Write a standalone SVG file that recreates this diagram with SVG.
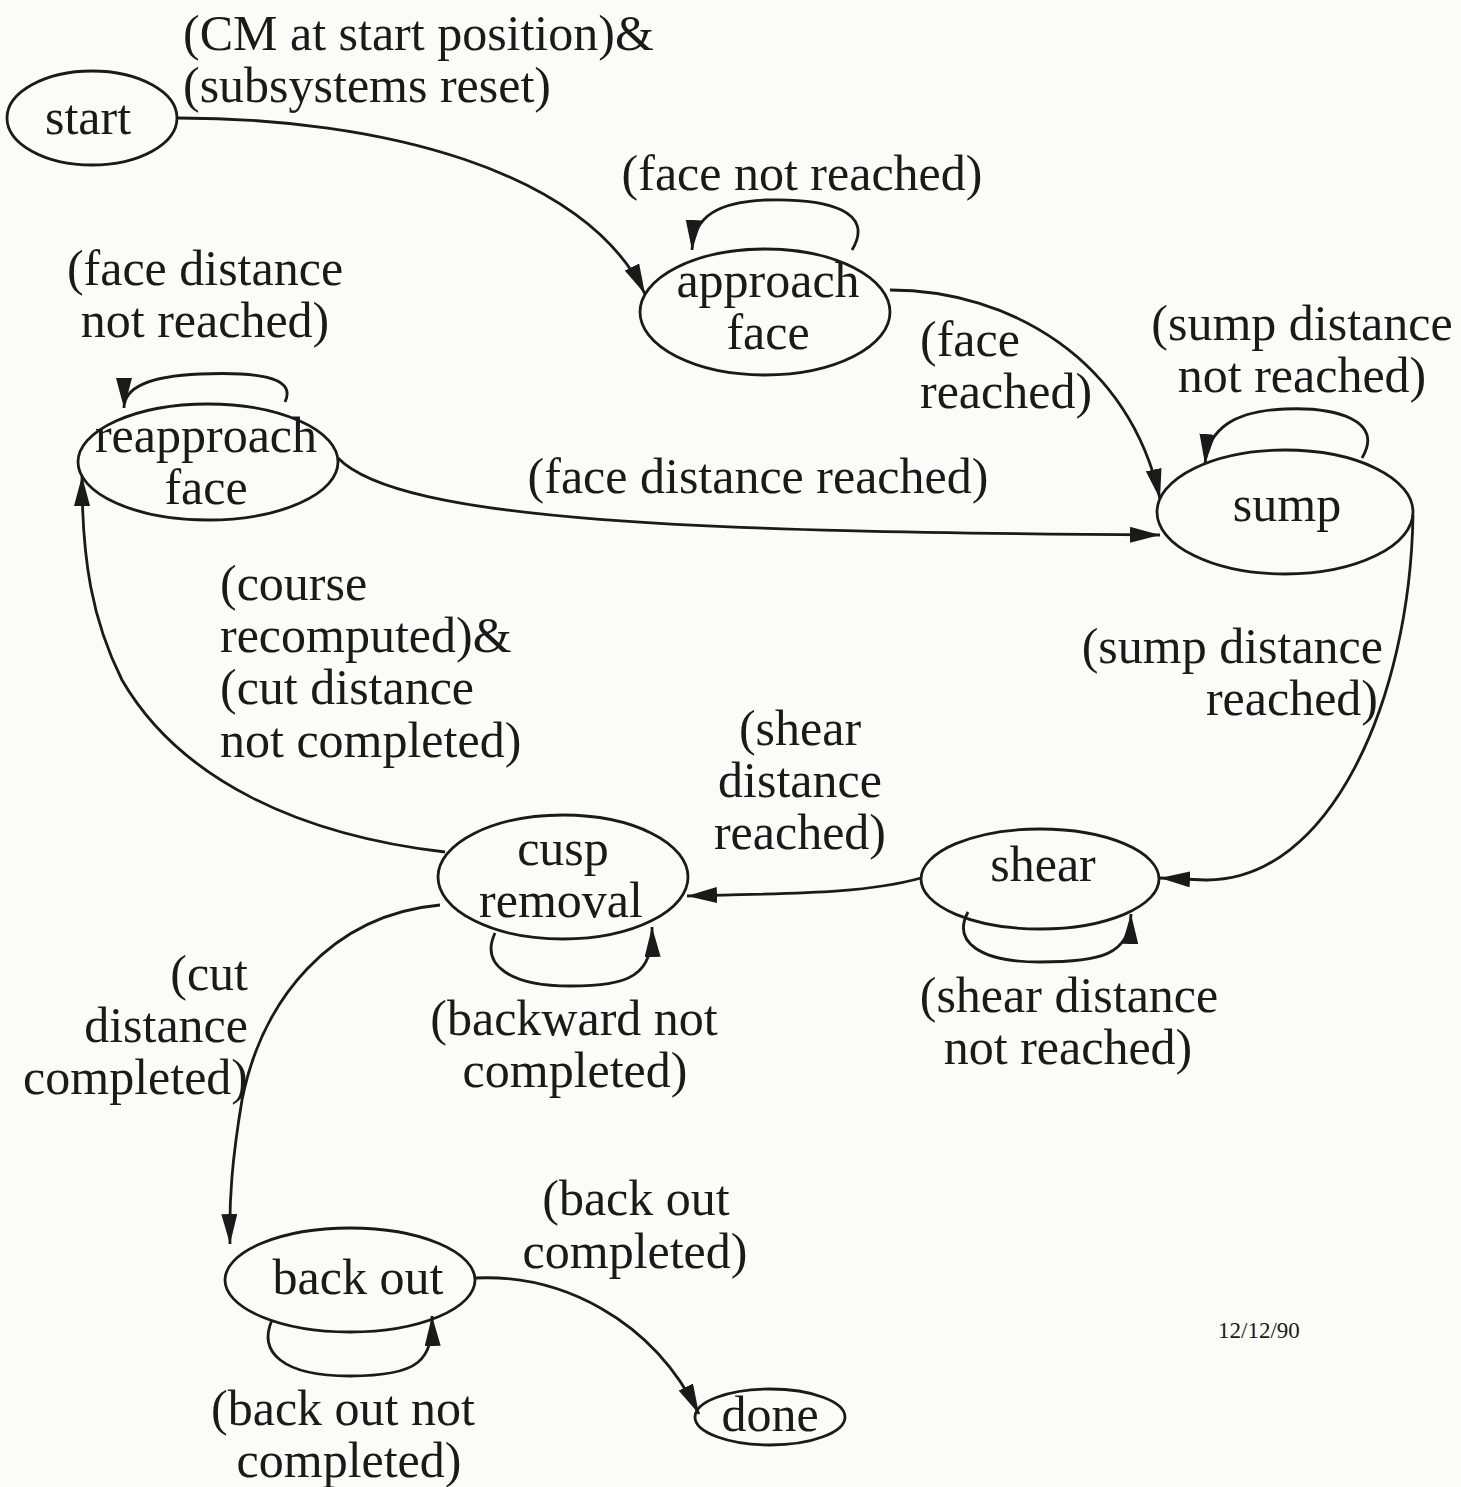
<svg xmlns="http://www.w3.org/2000/svg" width="1461" height="1487" viewBox="0 0 1461 1487">
  <style>
    .bg { fill: #fbfbf7; }
    .state { fill: none; stroke: #1a1a1a; stroke-width: 2.8; }
    .edge { fill: none; stroke: #1a1a1a; stroke-width: 2.8; marker-end: url(#head); }
    text { font-family: "Liberation Serif", "Times New Roman", serif; font-size: 50px; fill: #1a1a1a; }
    .mid { text-anchor: middle; }
    .end { text-anchor: end; }
    .date { font-size: 23px; }
  </style>
  <defs>
    <marker id="head" markerUnits="userSpaceOnUse" markerWidth="32" markerHeight="18" refX="30" refY="8" orient="auto">
      <path d="M0,0 L30,8 L0,16 Z" fill="#1a1a1a"/>
    </marker>
  </defs>

  <rect class="bg" x="0" y="0" width="1461" height="1487"/>

  <!-- transitions -->
  <g id="connectors">
    <path class="edge" d="M178,118 C380,118 585,170 645,294"/>
    <path class="edge" d="M852,250 C875,212 830,198 765,200 C720,202 694,215 692,250"/>
    <path class="edge" d="M890,290 C1010,290 1130,360 1160,499"/>
    <path class="edge" d="M1362,458 C1385,420 1335,407 1285,409 C1235,411 1208,428 1205,464"/>
    <path class="edge" d="M338,458 C400,522 700,532 1160,535"/>
    <path class="edge" d="M285,402 C298,375 250,372 200,374 C152,376 124,386 124,408"/>
    <path class="edge" d="M1413,515 C1410,700 1330,882 1205,880 L1160,878"/>
    <path class="edge" d="M968,912 C952,942 980,962 1040,962 C1100,962 1130,955 1131,914"/>
    <path class="edge" d="M921,878 C860,895 780,893 687,896"/>
    <path class="edge" d="M495,933 C480,965 510,986 570,986 C630,986 653,976 652,927"/>
    <path class="edge" d="M445,852 C300,835 180,780 122,680 C92,620 82,560 82,476"/>
    <path class="edge" d="M440,905 C330,915 262,1000 242,1100 C232,1160 229,1200 230,1244"/>
    <path class="edge" d="M272,1320 C258,1352 282,1376 350,1376 C420,1376 433,1360 432,1316"/>
    <path class="edge" d="M475,1278 C560,1274 652,1318 699,1414"/>
  </g>

  <!-- states -->
  <g id="start">
    <ellipse class="state" cx="92" cy="118" rx="85" ry="47"/>
    <text class="mid" x="88" y="134">start</text>
  </g>
  <g id="approach-face">
    <ellipse class="state" cx="765" cy="312" rx="125" ry="63"/>
    <text class="mid" x="768" y="297">approach</text>
    <text class="mid" x="768" y="349">face</text>
  </g>
  <g id="reapproach-face">
    <ellipse class="state" cx="208" cy="462" rx="130" ry="58"/>
    <text class="mid" x="206" y="452">reapproach</text>
    <text class="mid" x="206" y="504">face</text>
  </g>
  <g id="sump">
    <ellipse class="state" cx="1285" cy="512" rx="128" ry="62"/>
    <text class="mid" x="1287" y="521">sump</text>
  </g>
  <g id="shear">
    <ellipse class="state" cx="1040" cy="879" rx="119" ry="50"/>
    <text class="mid" x="1043" y="881">shear</text>
  </g>
  <g id="cusp-removal">
    <ellipse class="state" cx="563" cy="877" rx="125" ry="62"/>
    <text class="mid" x="563" y="865">cusp</text>
    <text class="mid" x="561" y="917">removal</text>
  </g>
  <g id="back-out">
    <ellipse class="state" cx="350" cy="1280" rx="125" ry="52"/>
    <text class="mid" x="358" y="1294">back out</text>
  </g>
  <g id="done">
    <ellipse class="state" cx="770" cy="1417" rx="75" ry="28"/>
    <text class="mid" x="770" y="1431">done</text>
  </g>

  <!-- transition labels -->
  <g id="labels">
    <text x="183" y="50">(CM at start position)&amp;</text>
    <text x="183" y="102">(subsystems reset)</text>
    <text class="mid" x="802" y="190">(face not reached)</text>
    <text class="mid" x="205" y="285">(face distance</text>
    <text class="mid" x="205" y="337">not reached)</text>
    <text x="920" y="356">(face</text>
    <text x="920" y="408">reached)</text>
    <text class="mid" x="1302" y="340">(sump distance</text>
    <text class="mid" x="1302" y="392">not reached)</text>
    <text class="mid" x="758" y="493">(face distance reached)</text>
    <text x="220" y="600">(course</text>
    <text x="220" y="652">recomputed)&amp;</text>
    <text x="220" y="704">(cut distance</text>
    <text x="220" y="757">not completed)</text>
    <text class="end" x="1383" y="663">(sump distance</text>
    <text class="end" x="1378" y="715">reached)</text>
    <text class="mid" x="800" y="745">(shear</text>
    <text class="mid" x="800" y="797">distance</text>
    <text class="mid" x="800" y="849">reached)</text>
    <text class="mid" x="574" y="1035">(backward not</text>
    <text class="mid" x="575" y="1087">completed)</text>
    <text class="mid" x="1069" y="1012">(shear distance</text>
    <text class="mid" x="1068" y="1064">not reached)</text>
    <text class="end" x="248" y="990">(cut</text>
    <text class="end" x="248" y="1042">distance</text>
    <text class="end" x="248" y="1094">completed)</text>
    <text class="mid" x="636" y="1215">(back out</text>
    <text class="mid" x="635" y="1268">completed)</text>
    <text class="mid" x="343" y="1425">(back out not</text>
    <text class="mid" x="349" y="1477">completed)</text>
    <text class="date" x="1218" y="1338">12/12/90</text>
  </g>
</svg>
